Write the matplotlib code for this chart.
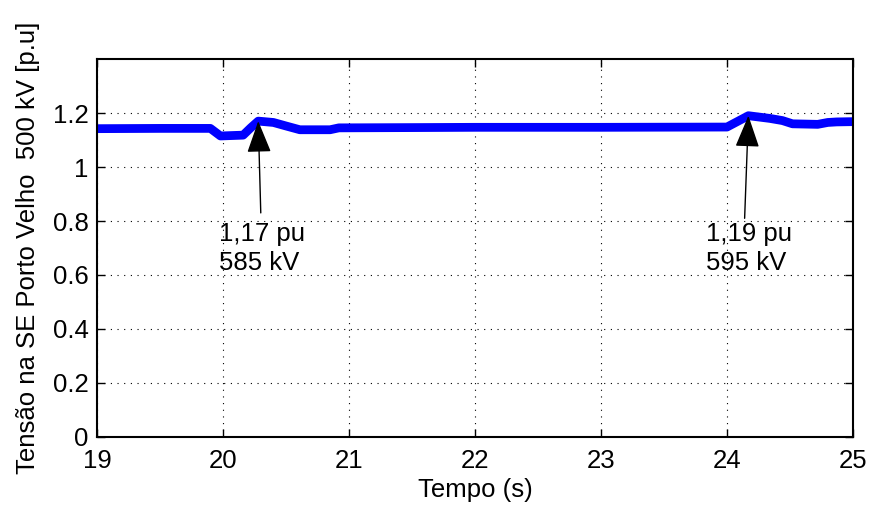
import matplotlib
matplotlib.use("Agg")
import matplotlib.pyplot as plt

# Bus voltage at SE Porto Velho 500 kV (p.u.) over time (s)
tempo = [19.00, 19.50, 19.90, 19.98, 20.16, 20.22, 20.28, 20.40, 20.50,
         20.61, 20.85, 20.92, 21.50, 22.00, 23.00, 24.00, 24.17, 24.34,
         24.44, 24.52, 24.72, 24.80, 24.87, 25.00]
tensao = [1.142, 1.143, 1.143, 1.115, 1.118, 1.145, 1.170, 1.165, 1.152,
          1.138, 1.138, 1.145, 1.146, 1.147, 1.147, 1.148, 1.190, 1.180,
          1.172, 1.160, 1.158, 1.165, 1.167, 1.168]

# Annotated peaks
picos_t = [20.28, 24.17]
picos_v = [1.17, 1.19]
picos_txt = ["1,17 pu\n585 kV", "1,19 pu\n595 kV"]
cauda_t = [20.30, 24.14]
cauda_v = [0.83, 0.81]
texto_t = [19.97, 23.83]
texto_v = [0.795, 0.795]

xticks = [19, 20, 21, 22, 23, 24, 25]
yticks = [0, 0.2, 0.4, 0.6, 0.8, 1.0, 1.2]
ytick_labels = ["0", "0.2", "0.4", "0.6", "0.8", "1", "1.2"]

plt.rcParams['font.family'] = ['Liberation Sans', 'DejaVu Sans']
FS = 18.5

fig = plt.figure(figsize=(8.72, 5.07), dpi=100)
ax = fig.add_axes([0.1112, 0.1381, 0.8670, 0.7455])

ax.plot(tempo, tensao, color=(0, 0, 1), lw=6.3, solid_capstyle='butt',
        solid_joinstyle='round')

for pt, pv, ct, cv, tt, tv, txt in zip(picos_t, picos_v, cauda_t, cauda_v,
                                       texto_t, texto_v, picos_txt):
    ax.annotate('', xy=(pt, pv), xytext=(ct, cv),
                arrowprops=dict(arrowstyle='-|>,head_length=1.0,head_width=0.38',
                                color='black', lw=1.0, shrinkA=0, shrinkB=0,
                                mutation_scale=20))
    ax.text(tt, tv, txt, fontsize=FS, ha='left', va='top', linespacing=1.22)

ax.set_xlim(19, 25)
ax.set_ylim(0, 1.4)
ax.set_xticks(xticks)
ax.set_yticks(yticks)
ax.set_yticklabels(ytick_labels)
ax.tick_params(direction='in', length=6, width=1, labelsize=FS,
               top=True, right=True)
ax.tick_params(axis='x', pad=9)
ax.tick_params(axis='y', pad=6)
ax.grid(True, color='black', linestyle=(0, (1, 5)), linewidth=0.8)
for s in ax.spines.values():
    s.set_linewidth(1.5)

ax.set_xlabel('Tempo (s)', fontsize=FS, labelpad=3)
ax.set_ylabel('Tensão na SE Porto Velho  500 kV [p.u]', fontsize=FS, labelpad=9)

fig.savefig('out.png', dpi=100)
